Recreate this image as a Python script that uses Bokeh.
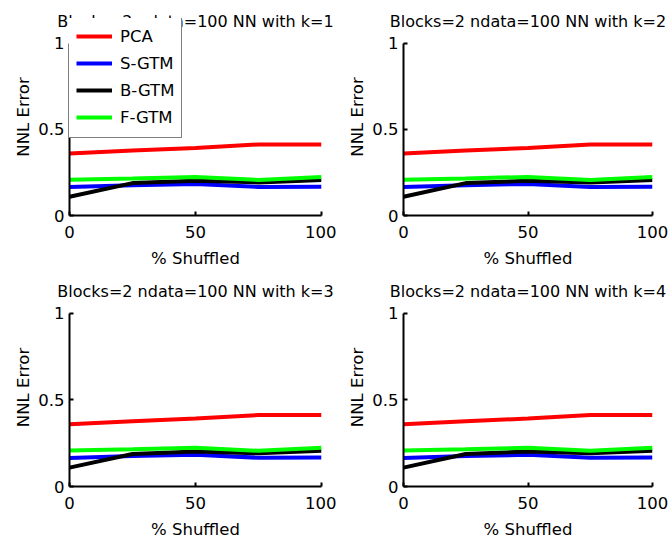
from bokeh.plotting import figure
from bokeh.layouts import column, row
from bokeh.models import Range1d, FixedTicker, Legend, LegendItem
from bokeh.embed import file_html
from bokeh.resources import INLINE

# ---- data ----
shuffled = [0, 25, 50, 75, 100]
pca = [0.36, 0.377, 0.392, 0.412, 0.412]
s_gtm = [0.165, 0.176, 0.183, 0.166, 0.167]
b_gtm = [0.109, 0.188, 0.202, 0.192, 0.206]
f_gtm = [0.208, 0.215, 0.224, 0.206, 0.224]
series_names = ["PCA", "S-GTM", "B-GTM", "F-GTM"]
series_colors = ["#ff0000", "#0000ff", "#000000", "#00ff00"]
k_values = [1, 2, 3, 4]
x_ticks = [0, 50, 100]
y_ticks = [0, 0.5, 1]
y_tick_labels = ["0", "0.5", "1"]

FONT = "DejaVu Sans"
FS = "16.5px"
FRAME_H = 175     # pixel height of the 0..1 span
ROOM = 25         # pixels of frame kept above y=1 (room for legend / title)


def make_panel(k, left_col, top_row, with_legend):
    h = 270 if top_row else 271
    p = figure(width=336, height=h, output_backend="svg", toolbar_location=None,
               x_range=Range1d(0, 100),
               y_range=Range1d(0, 1 + ROOM / FRAME_H),
               min_border_left=69 if left_col else 67,
               min_border_right=15 if left_col else 20,
               min_border_top=43 - ROOM,
               min_border_bottom=52 if top_row else 53,
               title="Blocks=2 ndata=100 NN with k=%d" % k)
    p.outline_line_color = None
    p.grid.visible = False
    p.background_fill_color = "white"
    p.border_fill_color = "white"
    p.title.align = "center"
    p.title.text_font = FONT
    p.title.text_font_size = "16px"
    p.title.text_font_style = "normal"
    p.title.text_color = "black"
    p.title.standoff = -25
    p.title.offset = 0

    for ax in (p.xaxis[0], p.yaxis[0]):
        ax.axis_line_width = 2
        ax.axis_line_color = "black"
        ax.major_tick_in = 4
        ax.major_tick_out = 0
        ax.major_tick_line_width = 2
        ax.minor_tick_line_color = None
        ax.major_label_text_font = FONT
        ax.major_label_text_font_size = FS
        ax.major_label_text_color = "black"
        ax.axis_label_text_font = FONT
        ax.axis_label_text_font_size = FS
        ax.axis_label_text_font_style = "normal"
        ax.axis_label_text_color = "black"

    p.yaxis.bounds = (0, 1)
    p.xaxis.ticker = FixedTicker(ticks=x_ticks)
    p.yaxis.ticker = FixedTicker(ticks=y_ticks)
    p.yaxis.major_label_overrides = {t: lab for t, lab in zip(y_ticks, y_tick_labels)}
    p.xaxis.axis_label = "% Shuffled"
    p.yaxis.axis_label = "NNL Error"
    p.xaxis.major_label_standoff = 10
    p.yaxis.major_label_standoff = 5
    p.xaxis.axis_label_standoff = 8
    p.yaxis.axis_label_standoff = 2

    renderers = []
    for name, ys, col in zip(series_names, [pca, s_gtm, b_gtm, f_gtm], series_colors):
        r = p.line(shuffled, ys, line_color=col, line_width=4)
        renderers.append(r)

    if with_legend:
        items = [LegendItem(label=n, renderers=[r]) for n, r in zip(series_names, renderers)]
        leg = Legend(items=items, location=(-1, 77))
        leg.border_line_color = "black"
        leg.border_line_width = 1.5
        leg.background_fill_color = "white"
        leg.background_fill_alpha = 1.0
        leg.label_text_font = FONT
        leg.label_text_font_size = FS
        leg.label_text_color = "black"
        leg.glyph_width = 36
        leg.glyph_height = 26
        leg.label_height = 26
        leg.spacing = 1
        leg.padding = 7
        leg.margin = 0
        leg.label_standoff = 8
        p.add_layout(leg, "center")
    return p


p1 = make_panel(k_values[0], True, True, True)
p2 = make_panel(k_values[1], False, True, False)
p3 = make_panel(k_values[2], True, False, False)
p4 = make_panel(k_values[3], False, False, False)

layout = column(row(p1, p2, spacing=0), row(p3, p4, spacing=0), spacing=0)

open("out.html", "w").write(file_html(layout, INLINE))
